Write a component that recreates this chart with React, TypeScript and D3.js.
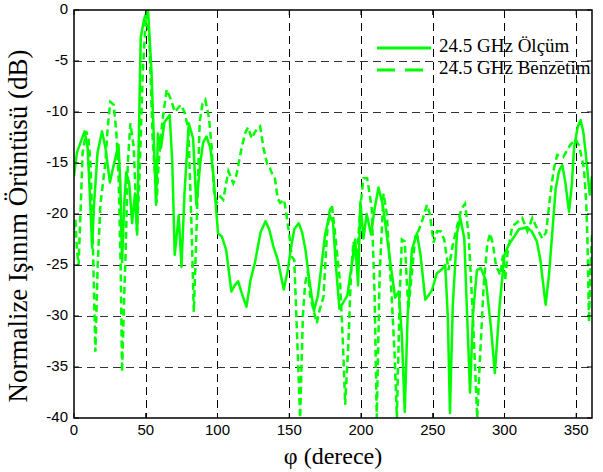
import React from 'react';
import * as d3 from 'd3';

// measured pattern (solid)
const measAngle = [0, 2, 4.5, 7.4, 9.5, 11.4, 12.6, 14, 16.4, 19.5, 21.9, 25, 28, 31, 32.3, 33.5, 35, 36.4, 38.5, 40.5, 42.5, 44, 45, 46.5, 49, 51.6, 54, 55.6, 57.2, 58.5, 60.7, 63, 66.7, 68.5, 70.2, 73, 74.9, 77, 80, 83, 85.3, 88, 90, 92.3, 95, 97, 99.2, 100.4, 103, 106, 109.7, 112, 114.4, 117, 120.2, 123, 126.2, 130, 133.5, 136, 139, 142, 146.2, 149, 151, 153.5, 156.6, 159, 161.3, 164, 167.2, 170, 172.5, 175, 178, 180.5, 182.5, 185, 188, 190.5, 193, 196, 198, 199.6, 201.7, 204, 207, 209.5, 212.2, 215, 217, 220.4, 223.8, 226.3, 228.5, 230.5, 232.5, 235.5, 239, 241.5, 244.8, 247, 249.4, 252.9, 255.8, 258.7, 260.5, 262, 264, 266.9, 269.2, 272, 274, 276, 278, 280.8, 283.5, 287, 290.5, 293.3, 296.6, 300, 303, 306.4, 310, 315.7, 319, 322.6, 325, 328.7, 331, 332.5, 335.7, 338, 340.3, 342.5, 345, 347, 348.5, 351, 353.1, 355, 356.6, 358, 359.4, 361];
const measDb = [-16.3, -14, -13, -11.9, -13.5, -19.1, -23.3, -19, -14, -11.9, -13.5, -16.9, -15, -13.2, -17, -24.7, -19, -15.9, -17, -20.9, -18, -22, -14, -2.7, -0.8, 0, -6, -12.5, -19.1, -12.1, -13.5, -11, -10.3, -15, -24, -20.1, -25.2, -18, -11.1, -12.6, -19.1, -15, -13, -12.4, -13.5, -16, -19.8, -21.9, -22.2, -23.5, -27.6, -27, -26.6, -27.8, -29.1, -26.5, -24.7, -21.8, -20.7, -21.5, -23.2, -24.5, -27.4, -25.5, -23.5, -21.5, -20.9, -21.8, -23.5, -26.5, -29.5, -28, -25, -22, -20.1, -20.8, -25, -29.3, -28.6, -28, -25.5, -22.5, -27, -18.8, -22.4, -20, -22, -19.5, -17.4, -19, -21, -24.7, -28.2, -27.6, -32, -39.4, -30, -23.5, -21.9, -24, -28.4, -28, -27.5, -25.8, -25.5, -25, -30, -39.5, -28.9, -21.9, -20.4, -22.4, -30, -37.5, -30, -25.5, -25.3, -26.5, -31, -35.6, -29, -24, -23, -22.3, -21.5, -21.3, -21.7, -22.7, -24.5, -28.9, -26, -23.3, -17.5, -15.8, -15.2, -17, -19.8, -17, -13.5, -11.5, -10.8, -12, -14, -16, -18.1, -16.3];

// simulated pattern (dashed)
const simAngle = [0, 1, 2, 3.2, 4.5, 6, 8.5, 10, 11.5, 13, 14.9, 16.5, 18.4, 21.9, 23.5, 25.3, 27.7, 29.5, 31.1, 32.5, 33.5, 35, 35.9, 37.5, 39.3, 41.6, 43.9, 45.5, 47.9, 50.2, 52.5, 54.8, 57.6, 59, 61.5, 64.6, 67, 70.4, 72.5, 74.4, 77, 79.7, 81.8, 83.5, 85.3, 87.6, 89.5, 91.5, 94, 96, 97.5, 99.5, 101.9, 104, 107.6, 111, 113, 116.7, 119.2, 121.3, 123.9, 126, 128, 129.7, 132, 134.8, 136.5, 137.9, 140, 142, 143.7, 146.4, 148.3, 150, 151.8, 153.5, 155.5, 157.6, 159.5, 161.1, 163, 164.5, 166.9, 169.2, 171, 173.9, 176.2, 178, 179.7, 182, 185.5, 187.5, 189, 191.3, 193, 194.8, 197, 199.4, 201.7, 204.3, 206, 207.5, 209.5, 211, 213, 215.7, 218, 221.5, 223.5, 225, 227, 228.5, 230.5, 233, 236, 238, 240, 243, 246, 248, 250.6, 253, 255.5, 258, 261, 264, 268, 270, 272.5, 275, 278, 281, 283, 285.5, 288, 290, 292, 294, 297, 299, 300.5, 302, 305.4, 309, 312.4, 316, 319.4, 323, 326.4, 329, 332.2, 334.5, 336.8, 341, 346, 349.6, 352, 355.4, 357, 357.8, 358.9, 360, 361];
const simDb = [-21.5, -20.5, -23.5, -25, -20, -14, -11.9, -12.5, -15, -22, -33.5, -25, -19.1, -14.9, -11.5, -9, -9.3, -12, -16.5, -25, -35.5, -28, -24.2, -15, -11.1, -13.4, -21.7, -17, -6.2, -0.4, -2.9, -12.5, -18.9, -15, -11, -7.8, -8.6, -10, -9.6, -9.3, -10, -11.7, -20.7, -29.6, -22, -11, -9.2, -8.8, -10.5, -13.5, -17.8, -18.9, -18.3, -18.6, -15.8, -17, -16.3, -13.6, -12.1, -11.5, -12.6, -12, -11.6, -11.4, -13.5, -15.2, -15.5, -16, -16.5, -18.5, -18.9, -18.6, -20.3, -22, -24.2, -24.5, -32, -40, -30, -26.8, -25.6, -28, -29.4, -30.7, -29.5, -28.1, -22.2, -19.8, -19.1, -22, -26.8, -33, -38.7, -32.4, -26, -22.7, -25, -19.6, -16.5, -16.5, -18, -19.5, -28, -40, -26, -18, -20, -28.4, -34, -40, -28, -22.5, -22.7, -29.4, -25, -22, -21.7, -20.5, -19.1, -20, -22.8, -21.7, -21.7, -22.5, -25.5, -23, -20.6, -19.5, -19, -22, -30, -40, -34, -27, -23, -21.9, -23, -25, -26, -24, -26.5, -24, -21.2, -20.8, -20.4, -21.7, -20.4, -21.5, -22.4, -21.8, -17.8, -15.5, -14.2, -14.4, -13.2, -12.7, -13.3, -15.5, -19, -22.4, -30.6, -25, -22];

const xTicks = [0, 50, 100, 150, 200, 250, 300, 350];
const yTicks = [0, -5, -10, -15, -20, -25, -30, -35, -40];
const legendLabels = ['24.5 GHz Ölçüm', '24.5 GHz Benzetim'];

const W = 603;
const H = 472;
const left = 74, top = 10, right = 592, bottom = 418;
const green = '#00ff00';
const serif = 'Liberation Serif, Times New Roman, serif';
const sans = 'Liberation Sans, Arial, sans-serif';

export default function App() {
  const x = d3.scaleLinear().domain([0, 361]).range([left, right]);
  const y = d3.scaleLinear().domain([-40, 0]).range([bottom, top]);

  const line = d3.line<[number, number]>()
    .x(d => x(d[0]))
    .y(d => y(d[1]));

  const meas: [number, number][] = measAngle.map((a, i) => [a, measDb[i]]);
  const sim: [number, number][] = simAngle.map((a, i) => [a, simDb[i]]);

  return (
    <svg width={W} height={H} style={{ position: 'absolute', left: 0, top: 0, background: '#fff' }}>
      <defs>
        <clipPath id="plot">
          <rect x={left} y={top} width={right - left} height={bottom - top} />
        </clipPath>
      </defs>
      <rect x={0} y={0} width={W} height={H} fill="#fff" />

      {/* grid */}
      {xTicks.filter(t => t > 0).map(t => (
        <line key={'gx' + t} x1={Math.round(x(t)) + 0.5} x2={Math.round(x(t)) + 0.5} y1={top} y2={bottom}
          stroke="#000" strokeWidth={1} strokeDasharray="8,5" />
      ))}
      {yTicks.filter(t => t > -40 && t < 0).map(t => (
        <line key={'gy' + t} x1={left} x2={right} y1={Math.round(y(t)) + 0.5} y2={Math.round(y(t)) + 0.5}
          stroke="#333" strokeWidth={1} strokeDasharray="8,5" />
      ))}

      {/* curves */}
      <g clipPath="url(#plot)">
        <path d={line(sim) || ''} fill="none" stroke={green} strokeWidth={2.5} strokeDasharray="7,4" />
        <path d={line(meas) || ''} fill="none" stroke={green} strokeWidth={2.5} strokeLinejoin="round" />
      </g>

      {/* ticks */}
      {xTicks.map(t => (
        <g key={'tx' + t}>
          <line x1={x(t)} x2={x(t)} y1={bottom} y2={bottom - 5} stroke="#000" />
          <line x1={x(t)} x2={x(t)} y1={top} y2={top + 5} stroke="#000" />
          <text x={x(t)} y={bottom + 13} textAnchor="middle" dominantBaseline="middle"
            fontFamily={sans} fontSize={15}>{t}</text>
        </g>
      ))}
      {yTicks.map(t => (
        <g key={'ty' + t}>
          <line x1={left} x2={left + 5} y1={y(t)} y2={y(t)} stroke="#000" />
          <line x1={right} x2={right - 5} y1={y(t)} y2={y(t)} stroke="#000" />
          <text x={left - 6} y={y(t)} textAnchor="end" dominantBaseline="middle"
            fontFamily={sans} fontSize={15}>{t}</text>
        </g>
      ))}

      {/* box */}
      <rect x={left} y={top} width={right - left} height={bottom - top} fill="none" stroke="#000" strokeWidth={1.5} />

      {/* legend */}
      <line x1={377} x2={431} y1={48} y2={48} stroke={green} strokeWidth={3} />
      <line x1={377} x2={431} y1={70} y2={70} stroke={green} strokeWidth={3} strokeDasharray="18,10" />
      <text x={439} y={48} dominantBaseline="middle" fontFamily={serif} fontSize={19}>{legendLabels[0]}</text>
      <text x={439} y={70} dominantBaseline="middle" fontFamily={serif} fontSize={19}>{legendLabels[1]}</text>

      {/* axis labels */}
      <text x={333} y={458} textAnchor="middle" dominantBaseline="middle"
        fontFamily={serif} fontSize={24}>φ (derece)</text>
      <text transform={`translate(21, 226) rotate(-90)`} textAnchor="middle" dominantBaseline="middle"
        fontFamily={serif} fontSize={27}>Normalize Işınım Örüntüsü (dB)</text>
    </svg>
  );
}
